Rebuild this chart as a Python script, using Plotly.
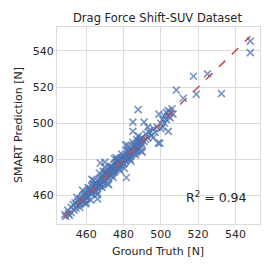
import plotly.graph_objects as go

# Ground truth and prediction pairs
ground_truth = [
    448.5, 449, 450, 450.5, 451, 452, 452, 453, 453.5, 454, 454.5, 455, 455.5, 456, 456.5, 457, 457.5, 458, 458, 458.5,
    459, 459, 459.5, 460, 460, 460.5,
    461, 461, 461.5, 462, 462, 462.5, 463, 463, 463.5, 464, 464, 464.5, 465, 465, 465.5, 466, 466, 466, 466.5, 467,
    467, 467.5, 467.5, 468, 468, 468.5, 469, 469, 469.5, 470, 470, 470, 470.5,
    471, 471, 471.5, 472, 472, 472.5, 473, 473, 473.5, 474, 474, 474.5, 475, 475, 475.5, 476, 476, 476.5, 477, 477,
    477.5, 478, 478, 478.5, 479, 479, 479.5, 480, 480, 480.5,
    481, 481, 481.5, 481.5, 482, 482, 482.5, 483, 483, 483.5, 484, 484, 484.5, 485, 485, 485, 485, 485.5, 486, 486,
    486.5, 487, 487, 487.5, 487.8, 488, 488, 488.5, 489, 489, 489.5, 490, 490, 491, 491,
    492, 492, 493, 494, 494, 495, 496, 497, 498, 498.6, 499.5, 500, 500, 501, 501, 502, 502, 503, 503, 504, 504, 504,
    505, 505, 506, 506.5, 508.3, 512, 517.5, 519, 525, 532.5, 548, 548,
    457, 459, 462, 465, 468, 471, 474, 477, 480, 483, 486, 489, 463, 469, 475, 481, 487, 473, 479, 476,
    455, 456.5, 458, 459.5, 461, 462.5, 464, 465.5, 467, 468.5, 470, 471.5, 473, 474.5, 476, 477.5, 479, 480.5, 482,
    483.5, 485, 486.5, 488, 489.5, 460, 463, 466, 469, 472, 475, 478, 481, 484, 487, 490, 493, 496, 499,
    464, 467.5, 470.5, 473.5, 476.5, 479.5, 482.5, 485.5, 488.5, 471, 474, 477, 480, 483, 486, 489,
]
smart_prediction = [
    449.5, 448.5, 452, 450, 449, 453.5, 450.5, 455, 452, 456, 453, 454.5, 457, 455, 458, 455.5, 457, 459.5, 456.5, 458,
    460, 457.5, 461, 459, 461.5, 458.5,
    462, 460, 463, 461, 464, 462.5, 461.5, 465, 463, 466, 462.5, 464.5, 463, 467, 465.5, 458.2, 464, 468, 466, 465,
    469, 467, 478, 466, 470, 468.5, 467, 471, 469.5, 468, 472, 478.5, 470.5,
    469, 473, 471.5, 470, 474, 472.5, 471, 475, 473.5, 472, 476, 474.5, 473, 477, 475.5, 474, 478, 476.5, 475, 479,
    477.5, 476, 480, 478.5, 477, 481, 479.5, 478, 482, 480.5,
    479, 483, 470, 481.5, 480, 484, 482.5, 481, 485, 483.5, 482, 486, 484.5, 483, 487, 495.5, 500.6, 485.5, 484, 488,
    486.5, 485, 489, 487.5, 507.5, 486, 490, 488.5, 487, 491, 489.5, 488, 492, 500.6, 490,
    491, 494, 492, 494.7, 496, 493, 497, 495, 498, 489, 489, 500, 497, 502, 498, 504, 500, 506, 502, 495.5, 507, 504,
    503, 506, 508, 505, 518.3, 513.8, 526, 516, 527.3, 516.4, 545.4, 539,
    458.5, 460.5, 463.5, 466.5, 469.5, 472.5, 475.5, 478.5, 481.5, 484.5, 487.5, 490.5, 461.5, 467.5, 473.5, 479.5, 485.5, 474.5, 480.5, 477.5,
    459, 453.5, 463, 455.5, 464.5, 457.5, 468.5, 462, 472.5, 464.5, 476, 466.5, 476, 470, 481, 474.5, 483, 475, 488,
    480, 489.5, 482.5, 493, 484.5, 456, 469, 460.5, 473.5, 466, 480.5, 474, 488, 479, 491, 484, 498, 492, 505,
    466, 465.5, 473, 471, 479.5, 478, 484.5, 483.5, 490, 472, 473, 479, 477.5, 484.5, 485, 491.5,
]
line_range = [448, 548]
axis_range = [444.3, 553.2]
tick_values = [460, 480, 500, 520, 540]
r2_text = "R<sup>2</sup> = 0.94"
title_text = "Drag Force Shift-SUV Dataset"
x_title = "Ground Truth [N]"
y_title = "SMART Prediction [N]"

font_family = "DejaVu Sans"
grid_color = "#dcdcdc"
text_color = "#262626"

fig = go.Figure()
fig.add_trace(go.Scatter(
    x=ground_truth, y=smart_prediction, mode="markers",
    marker=dict(symbol="x-thin", size=7, color="rgba(76,114,176,0.75)",
                line=dict(width=1.6, color="rgba(76,114,176,0.75)")),
    showlegend=False,
))
fig.add_trace(go.Scatter(
    x=line_range, y=line_range, mode="lines",
    line=dict(color="#C44E52", width=1.5, dash="dash"),
    showlegend=False,
))
fig.add_annotation(x=547.5, y=459.5, xref="x", yref="y", text=r2_text, showarrow=False,
                   xanchor="right", yanchor="middle",
                   font=dict(family=font_family, size=12.5, color=text_color))

# plot area: 57..260 px horizontally, 27..224 px vertically
fig.add_annotation(x=0.4975, y=-0.142, xref="paper", yref="paper", text=x_title, showarrow=False,
                   xanchor="center", yanchor="middle",
                   font=dict(family=font_family, size=11, color=text_color))
fig.add_annotation(x=-0.192, y=0.5025, xref="paper", yref="paper", text=y_title, showarrow=False,
                   xanchor="center", yanchor="middle", textangle=-90,
                   font=dict(family=font_family, size=11, color=text_color))
fig.add_annotation(x=0.4975, y=1.046, xref="paper", yref="paper", text=title_text, showarrow=False,
                   xanchor="center", yanchor="middle",
                   font=dict(family=font_family, size=11.5, color=text_color))

axis_common = dict(
    range=axis_range, tickvals=tick_values, showgrid=True, gridcolor=grid_color, gridwidth=1,
    zeroline=False, showline=True, linecolor=grid_color, linewidth=1.2, mirror=True,
    ticks="", tickfont=dict(family=font_family, size=11, color=text_color),
)
fig.update_xaxes(**axis_common)
fig.update_yaxes(**axis_common)

fig.update_layout(
    width=272, height=272,
    margin=dict(l=57, r=12, t=27, b=48),
    paper_bgcolor="white", plot_bgcolor="white",
)
fig.write_html("out.html", config={"displayModeBar": False},
               post_script="document.body.style.margin='0';document.body.style.overflow='hidden';")
